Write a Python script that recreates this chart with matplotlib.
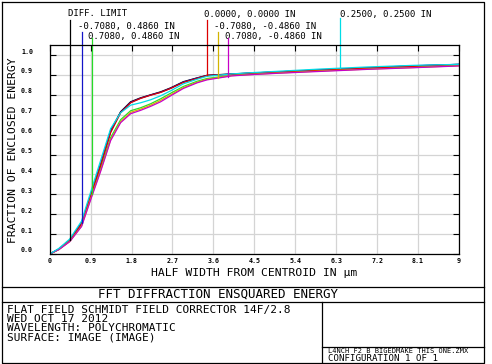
import numpy as np
import matplotlib
matplotlib.use("Agg")
import matplotlib.pyplot as plt
from matplotlib.transforms import ScaledTranslation

# ---------------- data ----------------
x_um = [0, 0.2, 0.44, 0.7, 0.92, 1.12, 1.34, 1.56, 1.78, 2.0, 2.22, 2.44, 2.66,
        2.94, 3.24, 3.46, 4.0, 4.5, 5.0, 6.0, 7.0, 8.0, 9.0]
diff_limit = [0, 0.025, 0.07, 0.155, 0.31, 0.45, 0.62, 0.715, 0.765, 0.785, 0.80, 0.815,
              0.835, 0.866, 0.885, 0.898, 0.905, 0.91, 0.915, 0.925, 0.935, 0.945, 0.953]
f_m0708_p0486 = [0, 0.024, 0.069, 0.155, 0.31, 0.45, 0.615, 0.712, 0.762, 0.783, 0.799, 0.813,
                 0.833, 0.864, 0.884, 0.897, 0.904, 0.91, 0.915, 0.926, 0.936, 0.946, 0.953]
f_p0708_p0486 = [0, 0.023, 0.065, 0.145, 0.30, 0.43, 0.585, 0.675, 0.72, 0.735, 0.755, 0.78,
                 0.808, 0.842, 0.868, 0.882, 0.898, 0.905, 0.912, 0.922, 0.932, 0.94, 0.948]
f_0000_0000 = [0, 0.024, 0.068, 0.15, 0.305, 0.445, 0.61, 0.71, 0.76, 0.782, 0.798, 0.812,
               0.832, 0.862, 0.882, 0.897, 0.903, 0.909, 0.914, 0.924, 0.934, 0.943, 0.951]
f_m0708_m0486 = [0, 0.022, 0.063, 0.14, 0.29, 0.42, 0.575, 0.665, 0.712, 0.728, 0.748, 0.772,
                 0.80, 0.836, 0.863, 0.878, 0.896, 0.903, 0.909, 0.92, 0.929, 0.937, 0.946]
f_p0708_m0486 = [0, 0.022, 0.062, 0.138, 0.285, 0.415, 0.57, 0.66, 0.705, 0.722, 0.742, 0.765,
                 0.795, 0.832, 0.86, 0.875, 0.895, 0.902, 0.908, 0.918, 0.928, 0.936, 0.945]
f_0250_0250 = [0, 0.028, 0.075, 0.165, 0.325, 0.47, 0.63, 0.71, 0.748, 0.76, 0.775, 0.795,
               0.82, 0.855, 0.878, 0.893, 0.905, 0.912, 0.918, 0.93, 0.94, 0.948, 0.953]

series_labels = ["DIFF. LIMIT", "-0.7080, 0.4860 IN", "0.7080, 0.4860 IN",
                 "0.0000, 0.0000 IN", "-0.7080, -0.4860 IN", "0.7080, -0.4860 IN",
                 "0.2500, 0.2500 IN"]
series_values = [diff_limit, f_m0708_p0486, f_p0708_p0486, f_0000_0000,
                 f_m0708_m0486, f_p0708_m0486, f_0250_0250]
series_colors = ["#000000", "#1414c8", "#28dc28", "#dc0000", "#d2b400", "#c800c8", "#00dce6"]
# where each label's leader line meets its curve (data x)
leader_x = [0.44, 0.70, 0.92, 3.46, 3.69, 3.91, 6.39]
# label anchor (pixels) and leader top (pixels)
label_px = [(68, 14), (78, 26), (88, 37), (204, 14), (214, 26), (225, 37), (340, 14)]
leader_top_px = [20, 32, 38, 20, 32, 38, 18]

x_ticks = [0, 0.9, 1.8, 2.7, 3.6, 4.5, 5.4, 6.3, 7.2, 8.1, 9]
x_ticklabels = ["0", "0.9", "1.8", "2.7", "3.6", "4.5", "5.4", "6.3", "7.2", "8.1", "9"]
y_ticks = [0.0, 0.1, 0.2, 0.3, 0.4, 0.5, 0.6, 0.7, 0.8, 0.9, 1.0]
y_ticklabels = ["0.0", "0.1", "0.2", "0.3", "0.4", "0.5", "0.6", "0.7", "0.8", "0.9", "1.0"]

title = "FFT DIFFRACTION ENSQUARED ENERGY"
x_title = "HALF WIDTH FROM CENTROID IN µm"
y_title = "FRACTION OF ENCLOSED ENERGY"
info_lines = ["FLAT FIELD SCHMIDT FIELD CORRECTOR 14F/2.8", "WED OCT 17 2012",
              "WAVELENGTH: POLYCHROMATIC", "SURFACE: IMAGE (IMAGE)"]
file_name = "L4NCH F2_B BIGEDMAKE THIS ONE.ZMX"
config_text = "CONFIGURATION 1 OF 1"

# ---------------- figure ----------------
W, H = 492, 364
DPI = 100
MONO = "DejaVu Sans Mono"
fig = plt.figure(figsize=(W / DPI, H / DPI), dpi=DPI)

# pixel overlay
ov = fig.add_axes([0, 0, 1, 1])
ov.set_xlim(0, W)
ov.set_ylim(H, 0)
ov.axis("off")

ax_l, ax_r, ax_t, ax_b = 49.7, 459, 45, 254
ax = fig.add_axes([ax_l / W, (H - ax_b) / H, (ax_r - ax_l) / W, (ax_b - ax_t) / H])
ymax = 1.0 + (55 - ax_t) / (ax_b - 55)
ax.set_xlim(0, 9)
ax.set_ylim(0, ymax)
ax.set_xticks(x_ticks)
ax.set_xticklabels(x_ticklabels, fontsize=4.8, family=MONO, fontweight="bold")
ax.set_yticks(y_ticks)
ax.set_yticklabels(y_ticklabels, fontsize=4.8, family=MONO, fontweight="bold")
ax.grid(True, color="#d4d4d4", lw=0.9)
ax.set_axisbelow(True)
for s in ax.spines.values():
    s.set_linewidth(0.9)
ax.tick_params(axis="y", direction="in", length=4, width=0.8, left=True, right=True, pad=12)
ax.tick_params(axis="x", direction="in", length=4, width=0.8, top=True, bottom=False, pad=3)
for lab in ax.get_yticklabels():
    lab.set_transform(lab.get_transform() + ScaledTranslation(0, 4 / DPI, fig.dpi_scale_trans))

for vals, col in zip(series_values, series_colors):
    ax.plot(x_um, vals, color=col, lw=0.9)

# leader lines and labels
def px_to_y(py):
    return (ax_b - py) / (ax_b - ax_t) * ymax

for lx, vals, col, (tx, ty), top, lab in zip(leader_x, series_values, series_colors,
                                             label_px, leader_top_px, series_labels):
    yc = np.interp(lx, x_um, vals)
    ax.plot([lx, lx], [yc, px_to_y(top)], color=col, lw=0.9, clip_on=False)
    ov.text(tx, ty, lab, family=MONO, fontsize=6.5, ha="left", va="center")

# axis titles
ov.text(254, 272.5, x_title, family=MONO, fontsize=8.2, ha="center", va="center")
ov.text(13, 150, y_title, family=MONO, fontsize=8.2, ha="center", va="center", rotation=90)

# frame / bottom boxes
lk = dict(color="black", lw=0.9)
ov.plot([1.5, 484, 484, 1.5, 1.5], [1.5, 1.5, 362.5, 362.5, 1.5], **lk)
ov.plot([1.5, 484], [286.7, 286.7], **lk)
ov.plot([1.5, 484], [301.7, 301.7], **lk)
ov.plot([321.7, 321.7], [301.7, 362.5], **lk)
ov.plot([321.7, 484], [346.7, 346.7], **lk)

ov.text(218, 294, title, family=MONO, fontsize=9, ha="center", va="center")
for i, line in enumerate(info_lines):
    ov.text(7, 310 + 9.2 * i, line, family=MONO, fontsize=8, ha="left", va="center")
ov.text(328, 350.3, file_name, family=MONO, fontsize=5.0, ha="left", va="center")
ov.text(328, 358.6, config_text, family=MONO, fontsize=6.6, ha="left", va="center")

fig.savefig("out.png", dpi=DPI)
